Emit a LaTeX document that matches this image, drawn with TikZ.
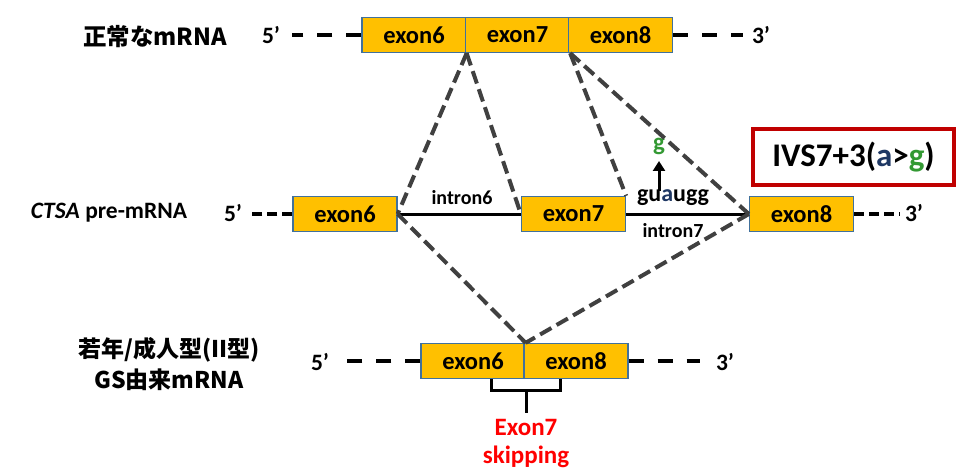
\documentclass[tikz,border=0pt]{standalone}
\usepackage{fontspec}
\setmainfont{Carlito}
\newfontfamily\jp{Noto Sans CJK JP}
\usetikzlibrary{arrows.meta}
\definecolor{exonfill}{HTML}{FFC000}
\definecolor{exonedge}{HTML}{41719C}
\definecolor{gline}{HTML}{404040}
\definecolor{ivsred}{HTML}{C00000}
\definecolor{agreen}{HTML}{339933}
\definecolor{ablue}{HTML}{1F3864}
\tikzset{
  exonbox/.style={draw=exonedge, line width=1.3pt, fill=exonfill, minimum width=104pt, minimum height=35pt, inner sep=0pt, font=\fontsize{24.5}{24}\selectfont\bfseries},
  guide/.style={draw=gline, line width=4pt, dash pattern=on 13pt off 6pt},
  endline/.style={line width=4pt, dash pattern=on 15pt off 14pt},
  endlineb/.style={line width=4pt, dash pattern=on 10pt off 5pt},
  intron/.style={line width=3pt},
  lbl/.style={inner sep=0pt, font=\fontsize{23.5}{24}\selectfont\bfseries},
  small/.style={inner sep=0pt, font=\fontsize{20}{20}\selectfont\bfseries},
}
\begin{document}
\begin{tikzpicture}[x=1pt,y=-1pt]
\useasboundingbox[fill=white] (0,0) rectangle (960,473);

% top row
\node[lbl] (t1) at (155,37) {\jp\bfseries 正常なmRNA};
\node[lbl] (t5) at (271,35) {5’};
\node[exonbox] (te6) at (414,35) {exon6};
\node[exonbox] (te7) at (517.5,35) {exon7};
\node[exonbox] (te8) at (620.5,35) {exon8};
\node[lbl] (t3) at (761,35) {3’};
\coordinate (tl) at (292,35);
\coordinate (tr) at (743,35);
\draw[endline] (te6.west) -- (tl);
\draw[endline] (te8.east) -- (tr);

% middle row
\node[lbl] (m1) at (109,213) {\textit{CTSA} pre-mRNA};
\node[lbl] (m5) at (233,213) {5’};
\node[exonbox] (me6) at (345,214) {exon6};
\node[exonbox] (me7) at (573.5,214) {exon7};
\node[exonbox] (me8) at (801.5,214) {exon8};
\node[lbl] (m3) at (914,213) {3’};
\coordinate (ml) at (248,214);
\coordinate (mr) at (900,214);
\draw[endlineb] (me6.west) -- (ml);
\draw[endlineb] (me8.east) -- (mr);
\draw[intron] (me6.east) -- (me7.west);
\draw[intron] (me7.east) -- (me8.west);
\node[small] (i6) at (462,198) {intron6};
\node[small] (i7) at (673,231) {intron7};
\node[inner sep=0pt, font=\fontsize{24}{24}\selectfont\bfseries] (gu) at (673,198) {gu\textcolor{ablue}{a}ugg};
\node[inner sep=0pt, font=\fontsize{25}{25}\selectfont\bfseries, text=agreen] (gg) at (659,146) {g};
\coordinate (arrS) at (659,191);
\coordinate (arrE) at (659,161);
\draw[line width=3pt, -{Triangle[length=10pt,width=12pt]}] (arrS) -- (arrE);

% IVS box
\node[draw=ivsred, line width=4pt, minimum width=201pt, minimum height=56pt, inner sep=0pt, font=\fontsize{33}{33}\selectfont\bfseries] (ivs) at (853.5,157) {IVS7+3(\textcolor{ablue}{a}>\textcolor{agreen}{g})};

% bottom row
\node[lbl, align=center, font=\fontsize{23}{31}\selectfont\bfseries\jp] (b1) at (169,364) {若年/成人型(II型)\\GS由来mRNA};
\node[lbl] (b5) at (320,362) {5’};
\node[exonbox] (be6) at (473,361) {exon6};
\node[exonbox] (be8) at (576,361) {exon8};
\node[lbl] (b3) at (725,362) {3’};
\coordinate (bl) at (345,361);
\coordinate (br) at (700,361);
\draw[endline] (be6.west) -- (bl);
\draw[endline] (be8.east) -- (br);

% guide lines
\draw[guide] (te6.south east) -- (me6.east);
\draw[guide] (te6.south east) -- (me7.west);
\draw[guide] (te7.south east) -- (me7.north east);
\draw[guide] (te7.south east) -- (me8.west);
\draw[guide] (me6.east) -- (be6.north east);
\draw[guide] (me8.west) -- (be6.north east);

% bracket
\coordinate (bkl) at (491,390);
\coordinate (bkr) at (560,390);
\coordinate (bkm) at (526,390);
\coordinate (bks) at (526,413);
\draw[line width=3pt] (bkl |- be6.south) -- (bkl) -- (bkr) -- (bkr |- be8.south);
\draw[line width=3pt] (bkm) -- (bks);
\node[inner sep=0pt, align=center, text=red, font=\fontsize{25}{28}\selectfont\bfseries] (skip) at (526,444) {Exon7\\skipping};
\end{tikzpicture}
\end{document}
